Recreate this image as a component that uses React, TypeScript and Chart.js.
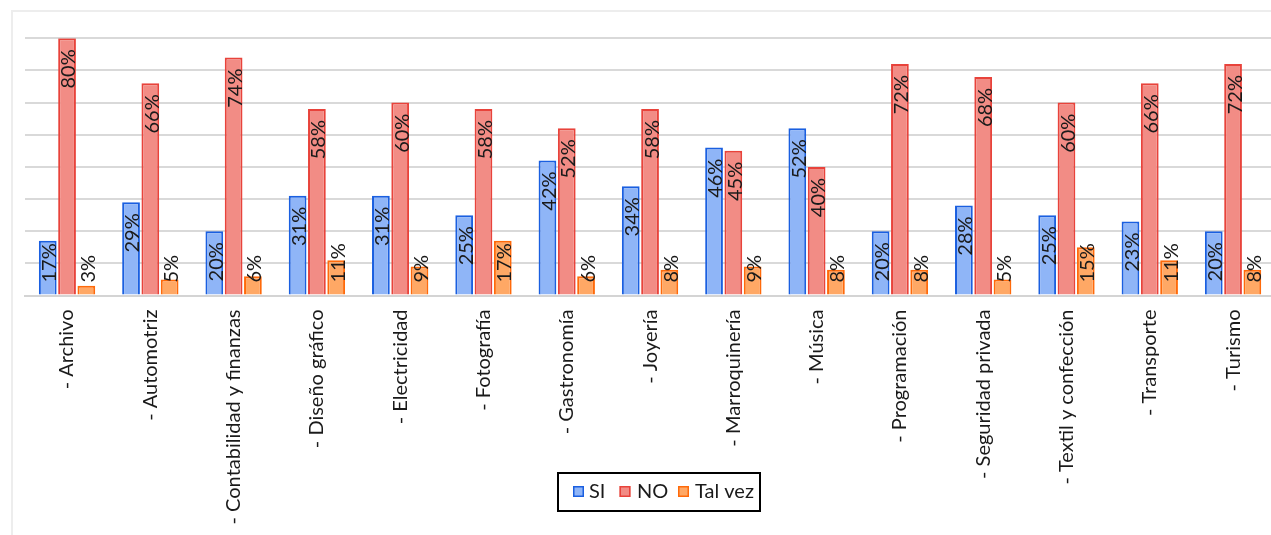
import React, { useEffect, useRef } from "react";
import { Chart, registerables } from "chart.js";

Chart.register(...registerables);

const categories = [
  "- Archivo",
  "- Automotriz",
  "- Contabilidad y finanzas",
  "- Diseño gráfico",
  "- Electricidad",
  "- Fotografía",
  "- Gastronomía",
  "- Joyería",
  "- Marroquinería",
  "- Música",
  "- Programación",
  "- Seguridad privada",
  "- Textil y confección",
  "- Transporte",
  "- Turismo",
];

const siValues = [17, 29, 20, 31, 31, 25, 42, 34, 46, 52, 20, 28, 25, 23, 20];
const noValues = [80, 66, 74, 58, 60, 58, 52, 58, 45, 40, 72, 68, 60, 66, 72];
const talVezValues = [3, 5, 6, 11, 9, 17, 6, 8, 9, 8, 8, 5, 15, 11, 8];

const seriesNames = ["SI", "NO", "Tal vez"];
const fillColors = ["#8fb5f7", "#f28c85", "#ffa865"];
const borderColors = ["#1a5fe0", "#e8433b", "#ff6a0a"];

const yMin = 0;
const yMax = 80;
const yStep = 10;

const FONT = "Lato";
const TEXT = "#1a1a1a";

export default function App() {
  const ref = useRef<HTMLCanvasElement | null>(null);

  useEffect(() => {
    const canvas = ref.current;
    if (!canvas) return;

    const labelPlugin = {
      id: "barLabels",
      afterDatasetsDraw(chart: any) {
        const c = chart.ctx;
        const base = chart.scales.y.getPixelForValue(0);
        c.save();
        c.font = `20px ${FONT}`;
        c.fillStyle = TEXT;
        chart.data.datasets.forEach((ds: any, di: number) => {
          const meta = chart.getDatasetMeta(di);
          meta.data.forEach((bar: any, i: number) => {
            const txt = `${ds.data[i]}%`;
            const w = c.measureText(txt).width;
            const top = Math.min(bar.y + 11, base - 13 - w);
            c.save();
            c.translate(bar.x + 2, top);
            c.rotate(-Math.PI / 2);
            c.textAlign = "right";
            c.textBaseline = "middle";
            c.fillText(txt, 0, 0);
            c.restore();
          });
        });
        c.restore();
      },
    };

    const legendPlugin = {
      id: "boxLegend",
      afterDraw(chart: any) {
        const c = chart.ctx;
        c.save();
        c.strokeStyle = "#000";
        c.lineWidth = 2;
        c.strokeRect(558, 473, 202, 38);
        const sq = [573, 619.5, 678];
        const tx = [589, 637, 695];
        c.font = `20px ${FONT}`;
        c.textBaseline = "middle";
        c.textAlign = "left";
        for (let k = 0; k < 3; k++) {
          c.fillStyle = fillColors[k];
          c.fillRect(sq[k], 486, 11, 11);
          c.strokeStyle = borderColors[k];
          c.lineWidth = 1.5;
          c.strokeRect(sq[k] + 0.75, 486.75, 9.5, 9.5);
          c.fillStyle = TEXT;
          c.fillText(seriesNames[k], tx[k], 492);
        }
        c.restore();
      },
    };

    const values = [siValues, noValues, talVezValues];

    const chart = new Chart(canvas, {
      type: "bar",
      data: {
        labels: categories,
        datasets: values.map((v, k) => ({
          label: seriesNames[k],
          data: v,
          backgroundColor: fillColors[k],
          borderColor: borderColors[k],
          borderWidth: 2,
          categoryPercentage: 0.695,
          barPercentage: 0.92,
        })),
      },
      options: {
        animation: false,
        responsive: false,
        layout: { padding: { left: 25.4, right: 15.3, top: 38.3, bottom: 0 } },
        plugins: {
          legend: { display: false },
          tooltip: { enabled: false },
        },
        scales: {
          x: {
            grid: { display: false, drawTicks: false },
            border: { display: true, color: "#d4d4d4", width: 2 },
            ticks: {
              minRotation: 90,
              maxRotation: 90,
              autoSkip: false,
              padding: 14,
              color: TEXT,
              font: { family: FONT, size: 20 },
            },
            afterFit: (s: any) => {
              s.height = 239.5;
            },
          },
          y: {
            min: yMin,
            max: yMax,
            ticks: { display: false, stepSize: yStep },
            grid: { color: "#d9d9d9", lineWidth: 2, drawTicks: false },
            border: { display: false },
            afterFit: (s: any) => {
              s.width = 0;
            },
          },
        },
      },
      plugins: [labelPlugin, legendPlugin],
    });

    return () => chart.destroy();
  }, []);

  return (
    <div
      style={{
        position: "fixed",
        left: 0,
        top: 0,
        width: 1271,
        height: 535,
        overflow: "hidden",
        background: "#fff",
      }}
    >
      <div
        style={{
          position: "absolute",
          left: 11,
          top: 10,
          width: 1400,
          height: 700,
          border: "2px solid #ededed",
          boxSizing: "border-box",
        }}
      />
      <canvas
        ref={ref}
        width={1290}
        height={535}
        style={{ position: "absolute", left: 0, top: 0, width: 1290, height: 535 }}
      />
    </div>
  );
}
